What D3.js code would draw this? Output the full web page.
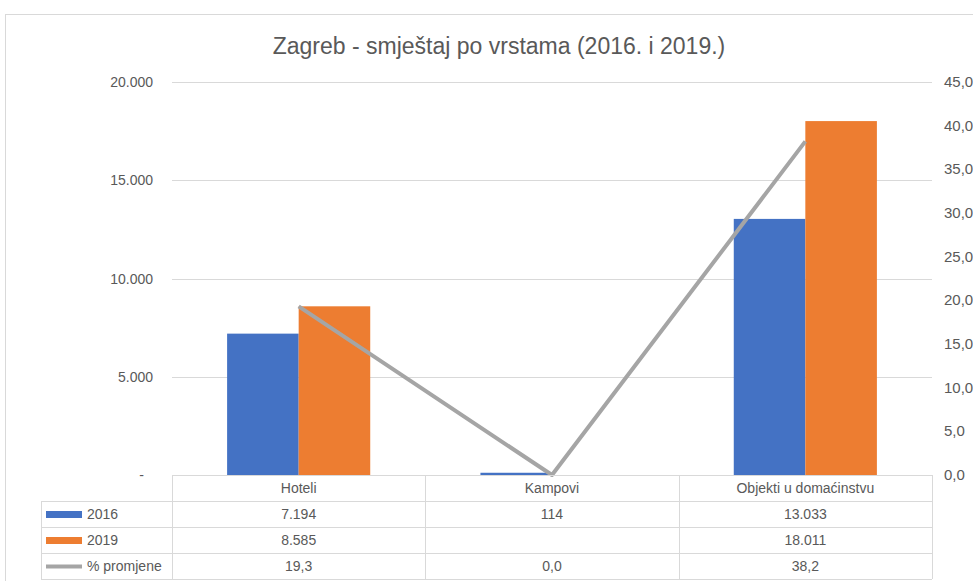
<!DOCTYPE html>
<html>
  <head>
    <meta charset="utf-8">
    <script src="https://d3js.org/d3.v7.min.js"></script>
    <style>
      body { margin: 0; background: #fff; }
      svg text { font-family: "Liberation Sans", Arial, sans-serif; fill: #595959; }
    </style>
  </head>
  <body>
    <svg id="chart" width="973" height="581"></svg>
    <script>
      // data
      const categories = ["Hoteli", "Kampovi", "Objekti u domaćinstvu"];
      const series = ["2016", "2019"];
      const values2016 = [7194, 114, 13033];
      const values2019 = [8585, null, 18011];
      const pctChange = [19.3, 0.0, 38.2];
      const leftTicks = [0, 5000, 10000, 15000, 20000];
      const rightTicks = [0, 5, 10, 15, 20, 25, 30, 35, 40, 45];
      const rowLabels = ["2016", "2019", "% promjene"];

      const colors = {"2016": "#4472c4", "2019": "#ed7d31", pct: "#a5a5a5"};
      const svg = d3.select("#chart");

      const plot = {left: 172, right: 932, top: 82, bottom: 475};

      // outer chart border
      svg.append("rect")
        .attr("x", 5.5).attr("y", 14.5)
        .attr("width", 1000).attr("height", 700)
        .attr("fill", "none").attr("stroke", "#d9d9d9");

      svg.append("text")
        .attr("x", 499).attr("y", 54)
        .attr("text-anchor", "middle")
        .style("font-size", "23px")
        .text("Zagreb - smještaj po vrstama (2016. i 2019.)");

      const x = d3.scaleBand().domain(categories).range([plot.left, plot.right]);
      const xs = d3.scaleBand().domain(series).range([0, x.bandwidth()]).paddingOuter(0.77);
      const y = d3.scaleLinear().domain([0, 20000]).range([plot.bottom, plot.top]);
      const y2 = d3.scaleLinear().domain([0, 45]).range([plot.bottom, plot.top]);

      // gridlines
      svg.append("g").selectAll("line").data(leftTicks)
        .join("line")
        .attr("x1", plot.left).attr("x2", plot.right)
        .attr("y1", d => Math.round(y(d)) + 0.5).attr("y2", d => Math.round(y(d)) + 0.5)
        .attr("stroke", "#d9d9d9");

      // left axis labels
      const fmt = d => d === 0 ? "-" : d3.format(",")(d).replace(/,/g, ".");
      svg.append("g").selectAll("text").data(leftTicks)
        .join("text")
        .attr("x", d => d === 0 ? 144 : 153)
        .attr("y", d => y(d) + 5)
        .attr("text-anchor", "end")
        .style("font-size", "14px")
        .text(fmt);

      // right axis labels
      svg.append("g").selectAll("text").data(rightTicks)
        .join("text")
        .attr("x", 944)
        .attr("y", d => y2(d) + 5)
        .style("font-size", "15px")
        .text(d => d3.format(".1f")(d).replace(".", ","));

      // bars
      const barData = [];
      categories.forEach((c, i) => {
        barData.push({cat: c, s: "2016", v: values2016[i]});
        barData.push({cat: c, s: "2019", v: values2019[i]});
      });
      svg.append("g").selectAll("rect").data(barData.filter(d => d.v != null))
        .join("rect")
        .attr("x", d => x(d.cat) + xs(d.s))
        .attr("width", xs.bandwidth())
        .attr("y", d => y(d.v))
        .attr("height", d => y(0) - y(d.v))
        .attr("fill", d => colors[d.s]);

      // line on secondary axis
      const line = d3.line()
        .x((d, i) => x(categories[i]) + x.bandwidth() / 2)
        .y(d => y2(d));
      svg.append("path")
        .datum(pctChange)
        .attr("d", line)
        .attr("fill", "none")
        .attr("stroke", colors.pct)
        .attr("stroke-width", 4)
        .attr("stroke-linejoin", "round");

      // data table
      const rowH = 26;
      const tableLeft = 41;
      const rows = [values2016, values2019, pctChange];
      const tg = svg.append("g");
      const border = "#d9d9d9";
      // horizontal lines
      [1, 2, 3, 4].forEach(r => {
        tg.append("line")
          .attr("x1", tableLeft).attr("x2", plot.right)
          .attr("y1", plot.bottom + r * rowH + 0.5).attr("y2", plot.bottom + r * rowH + 0.5)
          .attr("stroke", border);
      });
      tg.append("line")
        .attr("x1", plot.left).attr("x2", plot.right)
        .attr("y1", plot.bottom + 0.5).attr("y2", plot.bottom + 0.5)
        .attr("stroke", border);
      // vertical lines
      tg.append("line")
        .attr("x1", tableLeft + 0.5).attr("x2", tableLeft + 0.5)
        .attr("y1", plot.bottom + rowH).attr("y2", plot.bottom + 4 * rowH)
        .attr("stroke", border);
      categories.concat([null]).forEach((c, i) => {
        const xx = c ? x(c) : plot.right;
        tg.append("line")
          .attr("x1", Math.round(xx) + 0.5).attr("x2", Math.round(xx) + 0.5)
          .attr("y1", plot.bottom).attr("y2", plot.bottom + 4 * rowH)
          .attr("stroke", border);
      });
      // header labels
      tg.selectAll("text.cat").data(categories)
        .join("text")
        .attr("class", "cat")
        .attr("x", d => x(d) + x.bandwidth() / 2)
        .attr("y", plot.bottom + 18)
        .attr("text-anchor", "middle")
        .style("font-size", "14px")
        .text(d => d);
      // value cells
      const fmtVal = (v, r) => {
        if (v == null) return "";
        if (r === 2) return d3.format(".1f")(v).replace(".", ",");
        return d3.format(",")(v).replace(/,/g, ".");
      };
      rows.forEach((vals, r) => {
        const cy = plot.bottom + (r + 1) * rowH + rowH / 2;
        tg.selectAll("text.r" + r).data(vals)
          .join("text")
          .attr("class", "r" + r)
          .attr("x", (d, i) => x(categories[i]) + x.bandwidth() / 2)
          .attr("y", cy + 5)
          .attr("text-anchor", "middle")
          .style("font-size", "14px")
          .text(d => fmtVal(d, r));
        // legend keys
        if (r < 2) {
          tg.append("rect")
            .attr("x", 46).attr("y", cy - 3)
            .attr("width", 36).attr("height", 7)
            .attr("fill", colors[series[r]]);
        } else {
          tg.append("line")
            .attr("x1", 46).attr("x2", 82)
            .attr("y1", cy + 0.5).attr("y2", cy + 0.5)
            .attr("stroke", colors.pct).attr("stroke-width", 4);
        }
        tg.append("text")
          .attr("x", 87).attr("y", cy + 5)
          .style("font-size", "14px")
          .text(rowLabels[r]);
      });
    </script>
  </body>
</html>
